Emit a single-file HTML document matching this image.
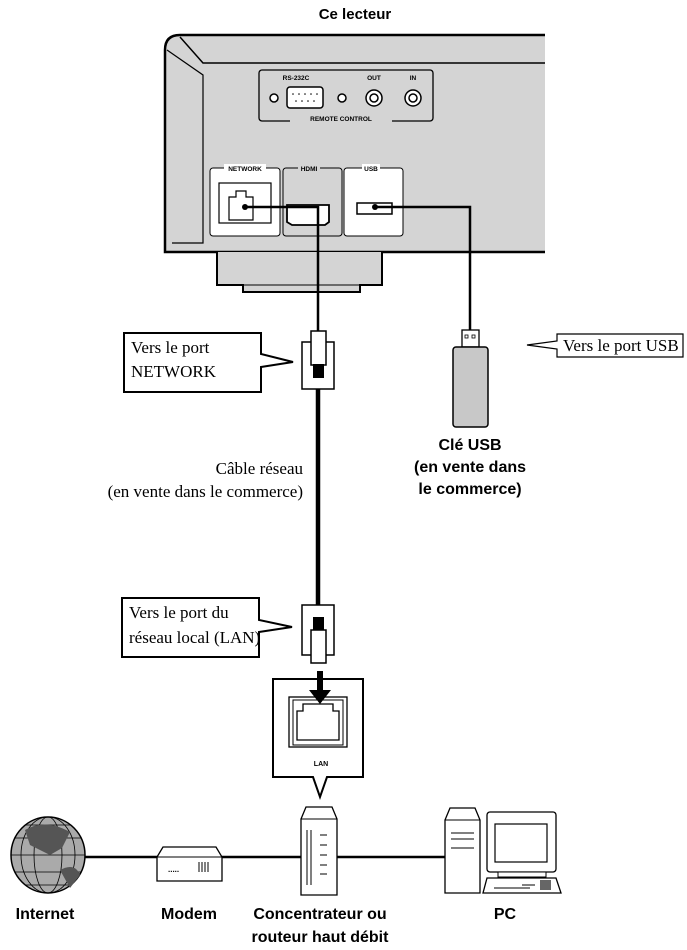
<!DOCTYPE html>
<html><head><meta charset="utf-8"><style>
html,body{margin:0;padding:0;background:#fff;}
svg{display:block}
.s{font-family:"Liberation Serif",serif;font-size:17px;fill:#000}
.b{font-family:"Liberation Sans",sans-serif;font-weight:bold;fill:#000}
</style></head><body>
<svg width="687" height="950" viewBox="0 0 687 950" xmlns="http://www.w3.org/2000/svg">
<text x="355" y="19" class="b" font-size="15" text-anchor="middle">Ce lecteur</text>
<!-- device -->
<path d="M545 35 H180 Q165 35 165 50 V252 H545" fill="#d4d4d4" stroke="#000" stroke-width="2.5"/>
<path d="M180 37 L203 63 H545" fill="none" stroke="#000" stroke-width="1.5"/>
<path d="M167 50 L203 75 V243 H172" fill="none" stroke="#000" stroke-width="1.2"/>
<rect x="259" y="70" width="174" height="51" rx="3" fill="none" stroke="#000" stroke-width="1.3"/>
<text x="296" y="80" class="b" font-size="6.5" text-anchor="middle">RS-232C</text>
<text x="374" y="80" class="b" font-size="6.5" text-anchor="middle">OUT</text>
<text x="413" y="80" class="b" font-size="6.5" text-anchor="middle">IN</text>
<rect x="290" y="112" width="102" height="10" fill="#d4d4d4"/>
<text x="341" y="121" class="b" font-size="6.5" text-anchor="middle">REMOTE CONTROL</text>
<circle cx="274" cy="98" r="4" fill="#fff" stroke="#000" stroke-width="1.5"/>
<circle cx="342" cy="98" r="4" fill="#fff" stroke="#000" stroke-width="1.5"/>
<rect x="287" y="87" width="36" height="21" rx="3" fill="#fff" stroke="#000" stroke-width="1.5"/>
<g fill="#000"><circle cx="293" cy="94" r=".8"/><circle cx="299" cy="94" r=".8"/><circle cx="305" cy="94" r=".8"/><circle cx="311" cy="94" r=".8"/><circle cx="317" cy="94" r=".8"/><circle cx="296" cy="101" r=".8"/><circle cx="302" cy="101" r=".8"/><circle cx="308" cy="101" r=".8"/><circle cx="314" cy="101" r=".8"/></g>
<circle cx="374" cy="98" r="8" fill="#fff" stroke="#000" stroke-width="1.5"/><circle cx="374" cy="98" r="4" fill="none" stroke="#000" stroke-width="1.5"/>
<circle cx="413" cy="98" r="8" fill="#fff" stroke="#000" stroke-width="1.5"/><circle cx="413" cy="98" r="4" fill="none" stroke="#000" stroke-width="1.5"/>
<rect x="210" y="168" width="70" height="68" rx="3" fill="#fff" stroke="#000" stroke-width="1"/>
<rect x="283" y="168" width="59" height="68" rx="3" fill="#d4d4d4" stroke="#000" stroke-width="1"/>
<rect x="344" y="168" width="59" height="68" rx="3" fill="#fff" stroke="#000" stroke-width="1"/>
<rect x="224" y="164" width="42" height="8" fill="#fff"/><text x="245" y="171" class="b" font-size="6.5" text-anchor="middle">NETWORK</text>
<rect x="298" y="164" width="22" height="8" fill="#d4d4d4"/><text x="309" y="171" class="b" font-size="6.5" text-anchor="middle">HDMI</text>
<rect x="362" y="164" width="18" height="8" fill="#fff"/><text x="371" y="171" class="b" font-size="6.5" text-anchor="middle">USB</text>
<rect x="219" y="183" width="52" height="40" fill="#fff" stroke="#000" stroke-width="1.2"/>
<path d="M229 220 V197 H236 V191 H246 V197 H253 V220 Z" fill="#fff" stroke="#000" stroke-width="1.2"/>
<path d="M287 205 H329 V222 L325 225 H292 L287 222Z" fill="#fff" stroke="#000" stroke-width="1.8"/>
<rect x="357" y="203" width="35" height="11" fill="#fff" stroke="#000" stroke-width="1.5"/>
<path d="M217 252 V285 H243 V292 H360 V285 H382 V252" fill="#d4d4d4" stroke="#000" stroke-width="2"/>
<line x1="243" y1="285" x2="360" y2="285" stroke="#000" stroke-width="1"/>
<!-- cables -->
<circle cx="245" cy="207" r="3" fill="#000"/>
<path d="M245 207 H318 V331" fill="none" stroke="#000" stroke-width="2.5"/>
<circle cx="375" cy="207" r="3" fill="#000"/>
<path d="M375 207 H470 V330" fill="none" stroke="#000" stroke-width="2.5"/>
<line x1="318" y1="389" x2="318" y2="605" stroke="#000" stroke-width="4.5"/>
<!-- top connector -->
<rect x="302" y="342" width="32" height="47" fill="#fff" stroke="#000" stroke-width="1.5"/>
<rect x="311" y="331" width="15" height="34" fill="#fff" stroke="#000" stroke-width="1.5"/>
<rect x="313" y="364" width="11" height="14" fill="#000"/>
<!-- bottom connector -->
<rect x="302" y="605" width="32" height="50" fill="#fff" stroke="#000" stroke-width="1.5"/>
<rect x="313" y="617" width="11" height="14" fill="#000"/>
<rect x="311" y="630" width="15" height="33" fill="#fff" stroke="#000" stroke-width="1.5"/>
<!-- callouts -->
<path d="M124 333 H261 V354 L293 362 L261 367 V392 H124Z" fill="#fff" stroke="#000" stroke-width="2"/>
<text x="131" y="353" class="s">Vers le port</text>
<text x="131" y="377" class="s">NETWORK</text>
<path d="M122 598 H259 V620 L292 627 L259 632 V657 H122Z" fill="#fff" stroke="#000" stroke-width="2"/>
<text x="129" y="618" class="s">Vers le port du</text>
<text x="129" y="643" class="s">réseau local (LAN)</text>
<text x="303" y="474" class="s" text-anchor="end">Câble réseau</text>
<text x="303" y="497" class="s" text-anchor="end">(en vente dans le commerce)</text>
<!-- usb stick -->
<rect x="462" y="330" width="17" height="17" fill="#fff" stroke="#000" stroke-width="1.3"/>
<rect x="465" y="335" width="3" height="3" fill="none" stroke="#000" stroke-width=".8"/><rect x="472" y="335" width="3" height="3" fill="none" stroke="#000" stroke-width=".8"/>
<rect x="453" y="347" width="35" height="80" rx="3" fill="#c8c8c8" stroke="#000" stroke-width="1.5"/>
<path d="M557 334 H683 V357 H557 V349 L527 345 L557 341Z" fill="#fff" stroke="#000" stroke-width="1.2"/>
<text x="563" y="351" class="s">Vers le port USB</text>
<text x="470" y="450" class="b" font-size="16" text-anchor="middle">Clé USB</text>
<text x="470" y="472" class="b" font-size="16" text-anchor="middle">(en vente dans</text>
<text x="470" y="494" class="b" font-size="16" text-anchor="middle">le commerce)</text>
<!-- LAN box -->
<path d="M273 679 H363 V777 H327 L320 797 L313 777 H273Z" fill="#fff" stroke="#000" stroke-width="2"/>
<rect x="289" y="697" width="58" height="50" fill="#fff" stroke="#000" stroke-width="1.3"/>
<rect x="293" y="700" width="50" height="45" fill="none" stroke="#000" stroke-width="1"/>
<path d="M297 740 V711 H303 V704 H333 V711 H339 V740Z" fill="#fff" stroke="#000" stroke-width="1.3"/>
<text x="321" y="766" class="b" font-size="7" text-anchor="middle">LAN</text>
<line x1="320" y1="671" x2="320" y2="692" stroke="#000" stroke-width="6"/>
<path d="M309 690 H331 L320 704Z" fill="#000"/>
<!-- network line -->
<line x1="80" y1="857" x2="448" y2="857" stroke="#000" stroke-width="2.5"/>
<!-- globe -->
<ellipse cx="48" cy="855" rx="37" ry="38" fill="#aaa" stroke="#000" stroke-width="1.5"/>
<g fill="none" stroke="#000" stroke-width=".8"><ellipse cx="48" cy="855" rx="14" ry="38"/><ellipse cx="48" cy="855" rx="27" ry="38"/><line x1="11" y1="855" x2="85" y2="855"/><path d="M15 838 H81 M15 872 H81 M25 825 H71 M25 885 H71"/></g>
<path d="M25 830 Q45 818 70 832 L62 848 L50 855 L40 850 L30 845Z" fill="#555"/>
<path d="M60 870 Q75 862 80 875 L70 888 Z" fill="#555"/>
<!-- modem -->
<path d="M157 857 L163 847 H216 L222 857 V881 H157Z" fill="#fff" stroke="#000" stroke-width="1.3"/>
<line x1="157" y1="857" x2="222" y2="857" stroke="#000" stroke-width="1"/>
<text x="168" y="872" font-family="Liberation Sans" font-size="8" font-weight="bold">.....</text>
<path d="M199 862 V872 M202 862 V872 M205 862 V872 M208 862 V872" stroke="#000" stroke-width="1"/>
<!-- router -->
<path d="M301 819 L306 807 H332 L337 819 V895 H301Z" fill="#fff" stroke="#000" stroke-width="1.3"/>
<line x1="301" y1="819" x2="337" y2="819" stroke="#000" stroke-width="1"/>
<path d="M307 830 V885 M311 830 V885 M320 835 H327 M320 845 H327 M320 855 H327 M320 865 H327 M320 874 H327" stroke="#000" stroke-width="1"/>
<!-- PC -->
<path d="M445 820 L450 808 H475 L480 820 V893 H445Z" fill="#fff" stroke="#000" stroke-width="1.3"/>
<line x1="445" y1="820" x2="480" y2="820" stroke="#000" stroke-width="1"/>
<path d="M451 833 H474 M451 839 H474 M451 848 H474" stroke="#000" stroke-width="1"/>
<rect x="487" y="812" width="69" height="60" rx="3" fill="#fff" stroke="#000" stroke-width="1.3"/>
<rect x="495" y="824" width="52" height="38" fill="#fff" stroke="#000" stroke-width="1.2"/>
<rect x="498" y="872" width="48" height="5" fill="#fff" stroke="#000" stroke-width="1"/>
<path d="M487 878 H556 L561 893 H483Z" fill="#fff" stroke="#000" stroke-width="1.3"/>
<path d="M494 888 H530 M522 885 H535" stroke="#000" stroke-width="1"/>
<rect x="540" y="880" width="11" height="10" fill="#666"/>
<!-- labels -->
<g font-size="16">
<text x="45" y="919" text-anchor="middle" class="b">Internet</text>
<text x="189" y="919" text-anchor="middle" class="b">Modem</text>
<text x="320" y="919" text-anchor="middle" class="b">Concentrateur ou</text>
<text x="320" y="942" text-anchor="middle" class="b">routeur haut débit</text>
<text x="505" y="919" text-anchor="middle" class="b">PC</text>
</g>
</svg>
</body></html>
